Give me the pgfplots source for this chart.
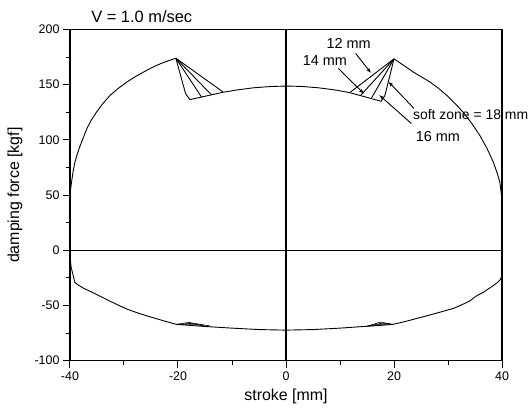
\documentclass[border=0pt]{standalone}
\usepackage{pgfplots}
\pgfplotsset{compat=1.18}
\usetikzlibrary{arrows.meta}
\usepackage{fontspec}
\setmainfont{Liberation Sans}
\begin{document}
\begin{tikzpicture}
\begin{axis}[
  scale only axis, width=432bp, height=331.2bp,
  xmin=-40, xmax=40, ymin=-100, ymax=200,
  xtick={-40,-20,0,20,40}, ytick={-100,-50,0,50,100,150,200},
  minor xtick={-30,-10,10,30}, minor ytick={-75,-25,25,75,125,175},
  tick pos=left, tick align=outside,
  major tick length=7bp, minor tick length=4bp,
  axis line style={line width=1.3bp},
  every tick/.style={black, line width=1bp},
  /pgf/number format/assume math mode=true,
  tick label style={font=\fontsize{12.5}{14}\selectfont},
  xticklabel style={yshift=-1bp},
  every axis y label/.style={at={(rel axis cs:-0.1273,0.5)}, rotate=90, anchor=center, font=\fontsize{16}{19}\selectfont},
  every axis x label/.style={at={(rel axis cs:0.5,-0.1087)}, anchor=center, font=\fontsize{16}{19}\selectfont},
  xlabel={stroke [mm]}, ylabel={damping force [kgf]},
  clip=false,
]
% zero lines
\addplot[black, line width=1.3bp] coordinates {(-40,0) (40,0)};
\addplot[black, line width=1.1bp] coordinates {(0,-100) (0,200)};
% upper outer left
\addplot[black, line width=0.9bp] coordinates {(-40,0) (-40,50) (-39.8,58.7) (-39.5,69) (-39.1,79.8) (-38.6,88) (-38.1,95) (-37.5,102.5) (-36.9,110) (-36.1,117.5) (-35.1,125.1) (-33.9,133) (-32.6,140.2) (-31.1,146.5) (-29.5,152.3) (-28,157) (-26.4,161.4) (-24.9,165.3) (-23.3,168.9) (-21.8,171.6) (-20.4,174)};
% upper outer right
\addplot[black, line width=0.9bp] coordinates {(20.0,173.4) (21.8,167.5) (23.6,161.4) (25.1,157) (26.7,152.3) (28.3,146.5) (29.8,140.2) (31.3,133) (32.8,125.1) (34.4,115) (35.9,104) (37.2,92.5) (38.4,79.8) (39.1,70) (39.6,61.7) (39.9,50) (40,37.6) (40,0)};
% upper middle
\addplot[black, line width=0.9bp] coordinates {(-11.6,143.2) (-9,145.3) (-6,147.2) (-3,148.3) (0,148.8) (3,148.4) (6,147.2) (9,145.3) (11.8,142.8)};
% left soft-zone branches
\addplot[black, line width=0.9bp] coordinates {(-20.4,174) (-18.6,142) (-17.8,136.5) (-11.6,143.2)};
\addplot[black, line width=0.9bp] coordinates {(-20.4,174) (-15.6,138.5)};
\addplot[black, line width=0.9bp] coordinates {(-20.4,174) (-13.8,140.8)};
\addplot[black, line width=0.9bp] coordinates {(-20.4,174) (-11.6,143.2)};
% right soft-zone branches
\addplot[black, line width=0.9bp] coordinates {(11.8,142.8) (17.6,135) (18.3,140) (20.0,173.4)};
\addplot[black, line width=0.9bp] coordinates {(15.8,137.6) (20.0,173.4)};
\addplot[black, line width=0.9bp] coordinates {(13.8,140.2) (20.0,173.4)};
\addplot[black, line width=0.9bp] coordinates {(11.8,142.8) (20.0,173.4)};
% lower curve
\addplot[black, line width=0.9bp] coordinates {(-40,0) (-40,-5) (-39.8,-15) (-39.1,-29.2) (-38.3,-32) (-37.5,-34.3) (-35.7,-38.5) (-34,-42.6) (-32.5,-46.3) (-31,-49.8) (-29.5,-53.2) (-27.3,-57) (-25,-60.5) (-22.7,-63.8) (-20.3,-67.1) (-17.5,-68.1) (-15,-69) (-10,-70.5) (-5,-71.8) (0,-72.3) (5,-71.8) (10,-70.5) (15,-68.8) (17.5,-68) (19.8,-67.1) (22,-64.6) (24,-62) (26.5,-58.8) (29,-55.4) (31,-52.6) (32.5,-49.5) (34,-46) (35.2,-41.5) (36.8,-37.2) (38.3,-32.3) (39.2,-29) (39.6,-27) (40,-23.1) (40,0)};
% small compression bumps
\addplot[black, line width=0.6bp] coordinates {(-20.3,-67.1) (-18,-65.3) (-14,-68.6)};
\addplot[black, line width=0.6bp] coordinates {(-20.3,-67.1) (-17.5,-66.2) (-15,-68.5)};
\addplot[black, line width=0.6bp] coordinates {(-20.3,-67.1) (-17,-67.0) (-15.5,-68.4)};
\addplot[black, line width=0.6bp] coordinates {(15,-68.8) (17.5,-65.0) (19.8,-67.1)};
\addplot[black, line width=0.6bp] coordinates {(15,-68.8) (17.8,-66.0) (19.8,-67.1)};
\addplot[black, line width=0.6bp] coordinates {(15.5,-68.6) (17.5,-67.0) (19.8,-67.1)};
% annotation arrows
\addplot[black, line width=0.9bp, -{Stealth[length=5bp,width=3.5bp]}] coordinates {(12.9,178.3) (15.7,160.8)};
\addplot[black, line width=0.9bp, -{Stealth[length=5bp,width=3.5bp]}] coordinates {(9.7,164.7) (14.4,142)};
\addplot[black, line width=0.9bp, -{Stealth[length=5bp,width=3.5bp]}] coordinates {(23.7,128.5) (19.0,152.6)};
\addplot[black, line width=0.9bp, -{Stealth[length=5bp,width=3.5bp]}] coordinates {(23.2,114.9) (17.3,140.5)};
% texts
\node[font=\fontsize{14.5}{17}\selectfont] at (axis cs:11.6,187.3) {12 mm};
\node[font=\fontsize{14.5}{17}\selectfont] at (axis cs:7.2,172.2) {14 mm};
\node[font=\fontsize{14}{17}\selectfont, anchor=west, inner sep=0pt] at (axis cs:23.5,122.6) {soft zone = 18 mm};
\node[font=\fontsize{14.5}{17}\selectfont, anchor=west, inner sep=0pt] at (axis cs:24.0,103.5) {16 mm};
\node[font=\fontsize{16.5}{19}\selectfont, anchor=west, inner sep=0pt] at (axis cs:-36.1,211.6) {V = 1.0 m/sec};
\end{axis}
\pgfresetboundingbox
\path ([shift={(-70bp,-54.3bp)}]current axis.south west) rectangle ([shift={(30bp,29.5bp)}]current axis.north east);
\end{tikzpicture}
\end{document}
